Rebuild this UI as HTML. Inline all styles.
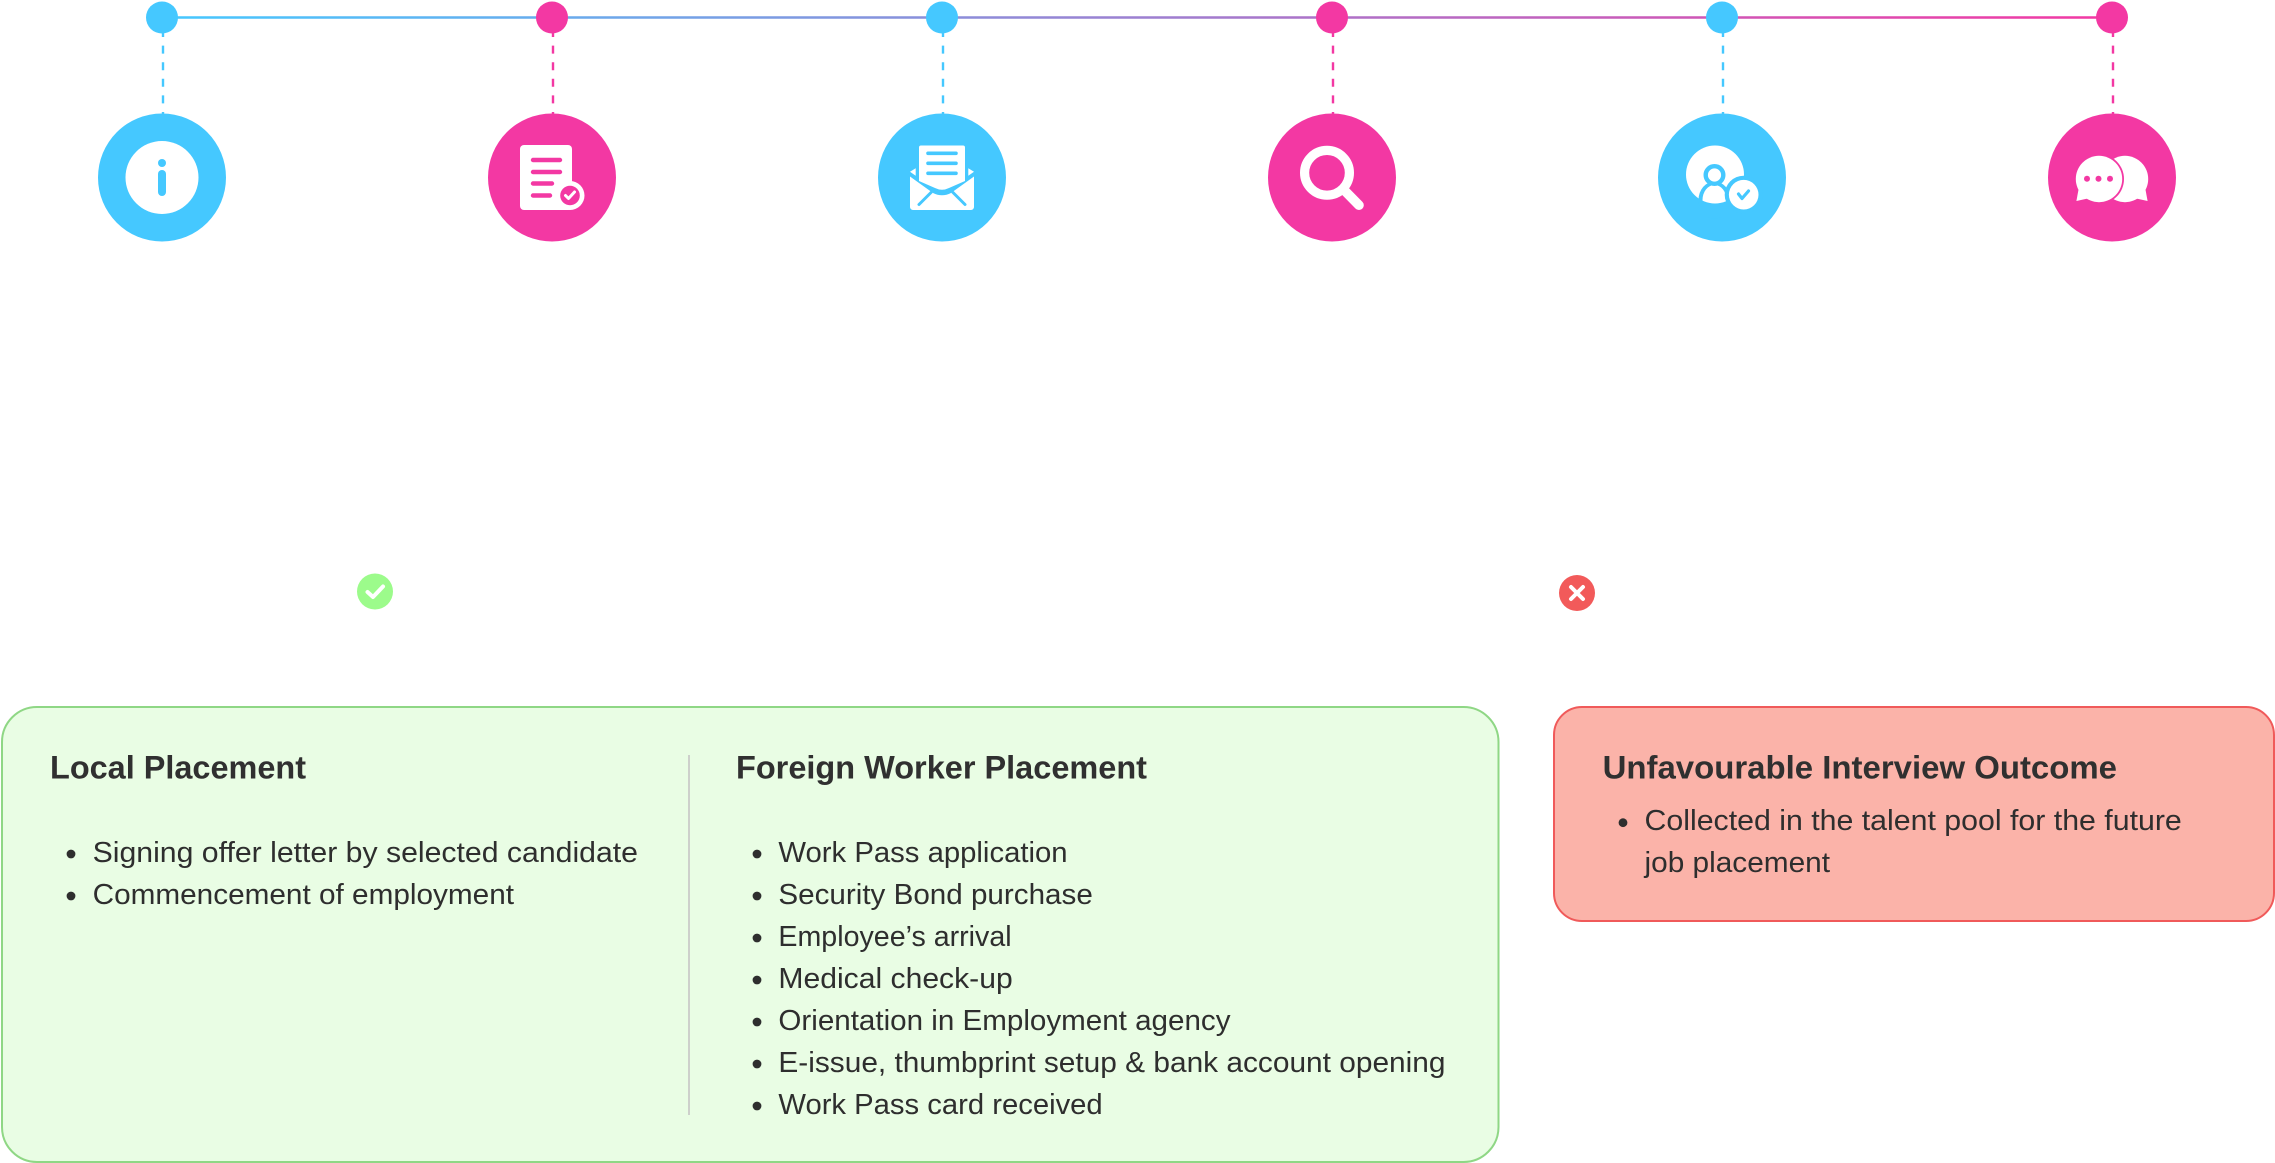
<!DOCTYPE html>
<html lang="en">
<head>
<meta charset="utf-8">
<title>Placement process</title>
<style>
html,body{margin:0;padding:0;background:#fff;width:2275px;height:1163px;overflow:hidden}
svg{display:block}
text{font-family:"Liberation Sans",sans-serif;fill:#2e2e2e}
.t{font-size:32.5px;font-weight:700;fill:#303030}
.b{font-size:29px}
</style>
</head>
<body>
<svg width="2275" height="1163" viewBox="0 0 2275 1163" xmlns="http://www.w3.org/2000/svg">
<defs>
<linearGradient id="g" gradientUnits="userSpaceOnUse" x1="162" y1="0" x2="2112" y2="0">
<stop offset="0" stop-color="#45c8ff"/><stop offset="1" stop-color="#f338a3"/>
</linearGradient>
<clipPath id="pc"><circle cx="1715" cy="174.5" r="29"/></clipPath>
</defs>

<!-- timeline -->
<rect x="162" y="16" width="1950" height="3" fill="url(#g)" opacity=".6"/>
<rect x="162" y="16.6" width="1950" height="1.8" fill="url(#g)"/>
<g stroke-width="2.4" stroke-dasharray="8 8.6" fill="none">
<path d="M163 29V114" stroke="#45c8ff"/>
<path d="M553 29V114" stroke="#f338a3"/>
<path d="M943 29V114" stroke="#45c8ff"/>
<path d="M1333 29V114" stroke="#f338a3"/>
<path d="M1723 29V114" stroke="#45c8ff"/>
<path d="M2113 29V114" stroke="#f338a3"/>
</g>
<g fill="#45c8ff">
<circle cx="162" cy="17.5" r="16"/><circle cx="942" cy="17.5" r="16"/><circle cx="1722" cy="17.5" r="16"/>
<circle cx="162" cy="177.5" r="64"/><circle cx="942" cy="177.5" r="64"/><circle cx="1722" cy="177.5" r="64"/>
</g>
<g fill="#f338a3">
<circle cx="552" cy="17.5" r="16"/><circle cx="1332" cy="17.5" r="16"/><circle cx="2112" cy="17.5" r="16"/>
<circle cx="552" cy="177.5" r="64"/><circle cx="1332" cy="177.5" r="64"/><circle cx="2112" cy="177.5" r="64"/>
</g>

<!-- info icon -->
<circle cx="162" cy="177.5" r="36.5" fill="#fff"/>
<circle cx="162" cy="163" r="4" fill="#45c8ff"/>
<rect x="158" y="170" width="8" height="26" rx="4" fill="#45c8ff"/>

<!-- document icon -->
<rect x="520" y="145" width="52" height="65" rx="4" fill="#fff"/>
<circle cx="570" cy="195.5" r="14.5" fill="#fff"/>
<g stroke="#f338a3" stroke-width="4.4" stroke-linecap="round">
<path d="M533 160H560M533 172H560M533 183.5H552M533 195.5H550"/>
</g>
<circle cx="570" cy="195.5" r="9.8" fill="#f338a3"/>
<path d="M565.5 195.5l3 3 6-6.5" stroke="#fff" stroke-width="3" fill="none" stroke-linecap="round" stroke-linejoin="round"/>

<!-- envelope icon -->
<path d="M915.7 168.3v7.4l-5.7-4zM968.3 168.3v7.4l5.7-4z" fill="#fff"/>
<path d="M921 145.5H963a2 2 0 0 1 2 2V181L949 188Q942 191.5 935 188L919 181V147.5a2 2 0 0 1 2-2z" fill="#fff"/>
<path d="M910 176.5L933 193Q942 197.5 951 193L974 176.5V207a3 3 0 0 1-3 3H913a3 3 0 0 1-3-3z" fill="#fff"/>
<g stroke="#45c8ff" stroke-width="3.6" stroke-linecap="round">
<path d="M928 153.3H956M928 163.3H956M928 173.3H956"/>
<path d="M931 192.5L919 204.5M953 192.5L965 204.5" stroke-width="3"/>
</g>

<!-- magnifier icon -->
<circle cx="1327" cy="172.8" r="22.4" fill="none" stroke="#fff" stroke-width="9.2"/>
<path d="M1345 191L1359 205.2" stroke="#fff" stroke-width="9.6" stroke-linecap="round"/>

<!-- person icon -->
<circle cx="1715" cy="174.5" r="29" fill="#fff"/>
<ellipse cx="1714.5" cy="200" rx="16" ry="18.5" fill="#45c8ff"/>
<ellipse cx="1714.5" cy="200" rx="12" ry="15" fill="#fff" clip-path="url(#pc)"/>
<circle cx="1714.5" cy="175" r="8.8" fill="#fff" stroke="#45c8ff" stroke-width="4.4"/>
<circle cx="1743.7" cy="194.7" r="19" fill="#45c8ff"/>
<circle cx="1743.7" cy="194.7" r="14.8" fill="#fff"/>
<path d="M1738.5 194l3.5 4.5 6.5-7.5" stroke="#45c8ff" stroke-width="3.2" fill="none" stroke-linecap="round" stroke-linejoin="round"/>

<!-- chat icon -->
<circle cx="2125" cy="179" r="23.2" fill="#fff"/>
<path d="M2145 187L2147.6 201 2134 198z" fill="#fff"/>
<circle cx="2099" cy="179" r="25" fill="#f338a3"/>
<circle cx="2099" cy="179" r="23.2" fill="#fff"/>
<path d="M2079 187L2076.4 201 2090 198z" fill="#fff"/>
<g fill="#f338a3"><circle cx="2087" cy="178.7" r="3"/><circle cx="2098.5" cy="178.7" r="3"/><circle cx="2110" cy="178.7" r="3"/></g>

<!-- status icons -->
<circle cx="375" cy="591.5" r="18" fill="#9cfb8b"/>
<path d="M367.5 592l5.5 5 10-10.5" stroke="#fff" stroke-width="4" fill="none" stroke-linecap="round" stroke-linejoin="round"/>
<circle cx="1577" cy="593" r="18" fill="#f25a5a"/>
<path d="M1571 587l12 12M1583 587l-12 12" stroke="#fff" stroke-width="4" fill="none" stroke-linecap="round"/>

<!-- green card -->
<rect x="2" y="707" width="1496.5" height="455" rx="35" fill="#e9fde4" stroke="#8fd785" stroke-width="2"/>
<rect x="688" y="755" width="2" height="360" fill="#cdd0cb"/>
<text class="t" x="50" y="778.5" textLength="256" lengthAdjust="spacingAndGlyphs">Local Placement</text>
<text class="t" x="736" y="778.5" textLength="411" lengthAdjust="spacingAndGlyphs">Foreign Worker Placement</text>

<!-- red card -->
<rect x="1554" y="707" width="720" height="214" rx="28" fill="#fbb3a9" stroke="#f05a5a" stroke-width="2"/>
<text class="t" x="1602.6" y="778.5" textLength="514.4" lengthAdjust="spacingAndGlyphs">Unfavourable Interview Outcome</text>

<!-- bullets -->
<g fill="#2e2e2e">
<circle cx="71" cy="854" r="4.4"/><circle cx="71" cy="896" r="4.4"/>
<circle cx="757" cy="854" r="4.4"/><circle cx="757" cy="896" r="4.4"/><circle cx="757" cy="938" r="4.4"/><circle cx="757" cy="980" r="4.4"/><circle cx="757" cy="1022" r="4.4"/><circle cx="757" cy="1064" r="4.4"/><circle cx="757" cy="1106" r="4.4"/>
<circle cx="1623" cy="822.7" r="4.4"/>
</g>
<text class="b" x="92.6" y="862" textLength="545.4" lengthAdjust="spacingAndGlyphs">Signing offer letter by selected candidate</text>
<text class="b" x="92.6" y="904" textLength="421.4" lengthAdjust="spacingAndGlyphs">Commencement of employment</text>
<text class="b" x="778.4" y="862" textLength="289.2" lengthAdjust="spacingAndGlyphs">Work Pass application</text>
<text class="b" x="778.4" y="904" textLength="314.4" lengthAdjust="spacingAndGlyphs">Security Bond purchase</text>
<text class="b" x="778.4" y="946" textLength="233.2" lengthAdjust="spacingAndGlyphs">Employee’s arrival</text>
<text class="b" x="778.4" y="988" textLength="234.3" lengthAdjust="spacingAndGlyphs">Medical check-up</text>
<text class="b" x="778.4" y="1030" textLength="452.1" lengthAdjust="spacingAndGlyphs">Orientation in Employment agency</text>
<text class="b" x="778.4" y="1072" textLength="667.1" lengthAdjust="spacingAndGlyphs">E-issue, thumbprint setup &amp; bank account opening</text>
<text class="b" x="778.4" y="1114" textLength="324.3" lengthAdjust="spacingAndGlyphs">Work Pass card received</text>
<text class="b" x="1644.5" y="830" textLength="537.3" lengthAdjust="spacingAndGlyphs">Collected in the talent pool for the future</text>
<text class="b" x="1644.5" y="872" textLength="185.5" lengthAdjust="spacingAndGlyphs">job placement</text>
</svg>
</body>
</html>
